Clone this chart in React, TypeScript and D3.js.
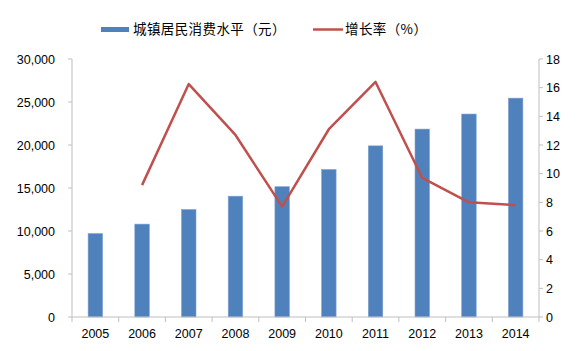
import React from "react";
import * as d3 from "d3";

const years = ["2005","2006","2007","2008","2009","2010","2011","2012","2013","2014"];
const consumption = [9700, 10800, 12500, 14050, 15150, 17150, 19900, 21850, 23600, 25450];
const growthYears = ["2006","2007","2008","2009","2010","2011","2012","2013","2014"];
const growth = [9.2, 16.25, 12.7, 7.7, 13.1, 16.4, 9.7, 8.0, 7.8];
const leftTicks = [0, 5000, 10000, 15000, 20000, 25000, 30000];
const rightTicks = [0, 2, 4, 6, 8, 10, 12, 14, 16, 18];
const barLabel = "城镇居民消费水平（元）";
const lineLabel = "增长率（%）";

export default function App() {
  const W = 582, H = 351;
  const left = 72, right = 539, top = 59, bottom = 317;
  const x = d3.scaleBand().domain(years).range([left, right]).paddingInner(0.69).paddingOuter(0.345);
  const xb = d3.scaleBand().domain(years).range([left, right]);
  const yL = d3.scaleLinear().domain([0, 30000]).range([bottom, top]);
  const yR = d3.scaleLinear().domain([0, 18]).range([bottom, top]);
  const line = d3.line<number>()
    .x((_, i) => (xb(growthYears[i]) as number) + xb.bandwidth() / 2)
    .y((d) => yR(d));
  const fmt = d3.format(",");
  const axisColor = "#bfbfbf";
  const font = "'Liberation Sans', Arial, sans-serif";
  return (
    <svg width={W} height={H} style={{ position: "absolute", left: 0, top: 0 }}>
      <rect width={W} height={H} fill="#fff" />
      {years.map((y, i) => (
        <rect key={y} x={x(y)} y={yL(consumption[i])} width={x.bandwidth()}
          height={bottom - yL(consumption[i])} fill="#4f81bd" stroke="#7fa3d0" strokeWidth={0.6} />
      ))}
      <line x1={left} x2={left} y1={top} y2={bottom} stroke={axisColor} />
      <line x1={right} x2={right} y1={top} y2={bottom} stroke={axisColor} />
      <line x1={left} x2={right} y1={bottom} y2={bottom} stroke={axisColor} />
      {leftTicks.map((t) => (
        <g key={t}>
          <line x1={left - 4} x2={left} y1={yL(t)} y2={yL(t)} stroke={axisColor} />
          <text x={55} y={yL(t) + 4.5} textAnchor="end" fontFamily={font} fontSize={12.5} fill="#000">{fmt(t)}</text>
        </g>
      ))}
      {rightTicks.map((t) => (
        <g key={t}>
          <line x1={right} x2={right + 4} y1={yR(t)} y2={yR(t)} stroke={axisColor} />
          <text x={546} y={yR(t) + 4.5} textAnchor="start" fontFamily={font} fontSize={12.5} fill="#000">{t}</text>
        </g>
      ))}
      {years.map((y) => (
        <g key={y}>
          <line x1={xb(y)} x2={xb(y)} y1={bottom} y2={bottom + 5} stroke={axisColor} />
          <text x={(xb(y) as number) + xb.bandwidth() / 2} y={338} textAnchor="middle" fontFamily={font} fontSize={12.5} fill="#000">{y}</text>
        </g>
      ))}
      <line x1={right} x2={right} y1={bottom} y2={bottom + 5} stroke={axisColor} />
      <path d={line(growth) || ""} fill="none" stroke="#c0504d" strokeWidth={2.5} strokeLinejoin="round" />
      <rect x={101} y={27} width={28} height={5} fill="#4f81bd" />
      <text x={133} y={34} fontFamily="'Noto Sans CJK SC', sans-serif" fontSize={13.5} letterSpacing={0.4} fill="#000">{barLabel}</text>
      <line x1={313} x2={343} y1={29.5} y2={29.5} stroke="#c0504d" strokeWidth={2.5} />
      <text x={345} y={34} fontFamily="'Noto Sans CJK SC', sans-serif" fontSize={13.5} letterSpacing={0.4} fill="#000">{lineLabel}</text>
    </svg>
  );
}
